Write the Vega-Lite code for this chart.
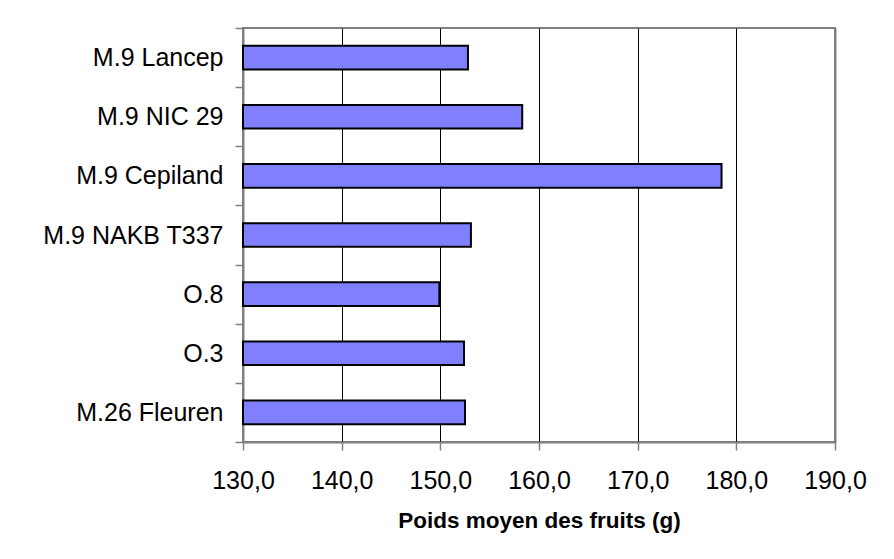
{
  "$schema": "https://vega.github.io/schema/vega-lite/v6.json",
  "width": 592,
  "height": 414,
  "autosize": {"type": "none"},
  "padding": {"left": 243, "top": 28, "right": 59, "bottom": 117},
  "background": "white",
  "data": {
    "values": [
      {"porte_greffe": "M.9 Lancep", "poids": 152.8},
      {"porte_greffe": "M.9 NIC 29", "poids": 158.3},
      {"porte_greffe": "M.9 Cepiland", "poids": 178.5},
      {"porte_greffe": "M.9 NAKB T337", "poids": 153.1},
      {"porte_greffe": "O.8", "poids": 149.9},
      {"porte_greffe": "O.3", "poids": 152.4},
      {"porte_greffe": "M.26 Fleuren", "poids": 152.5}
    ]
  },
  "mark": {"type": "bar", "fill": "#8080FF", "stroke": "black", "strokeWidth": 2, "height": {"band": 0.4}},
  "encoding": {
    "y": {
      "field": "porte_greffe",
      "type": "nominal",
      "sort": null,
      "scale": {"paddingInner": 0, "paddingOuter": 0},
      "axis": {
        "title": null,
        "tickBand": "extent",
        "tickSize": 8,
        "tickColor": "#808080",
        "tickWidth": 1.5,
        "domainColor": "#808080",
        "domainWidth": 2,
        "labelPadding": 12,
        "labelFont": "Liberation Sans",
        "labelFontSize": 25,
        "labelColor": "black",
        "labelLimit": 300,
        "grid": false
      }
    },
    "x": {
      "field": "poids",
      "type": "quantitative",
      "scale": {"domain": [130, 190], "zero": false, "nice": false},
      "axis": {
        "title": "Poids moyen des fruits (g)",
        "values": [130, 140, 150, 160, 170, 180, 190],
        "labelExpr": "replace(format(datum.value, '.1f'), '.', ',')",
        "labelFont": "Liberation Sans",
        "labelFontSize": 25,
        "labelColor": "black",
        "labelPadding": 18,
        "labelFlush": false,
        "labelOverlap": false,
        "tickSize": 8,
        "tickColor": "#808080",
        "tickWidth": 1.5,
        "domainColor": "#808080",
        "domainWidth": 2,
        "grid": true,
        "gridColor": {"condition": {"test": "datum.value == 190", "value": "#808080"}, "value": "black"},
        "gridWidth": {"condition": {"test": "datum.value == 190", "value": 2}, "value": 1},
        "gridOpacity": 1,
        "titleFont": "Liberation Sans",
        "titleFontSize": 22.5,
        "titleFontWeight": "bold",
        "titleColor": "black",
        "titleBaseline": "alphabetic",
        "titleY": 85
      }
    },
    "x2": {"datum": 130}
  },
  "config": {
    "view": {"stroke": "#808080", "strokeWidth": 2}
  }
}
